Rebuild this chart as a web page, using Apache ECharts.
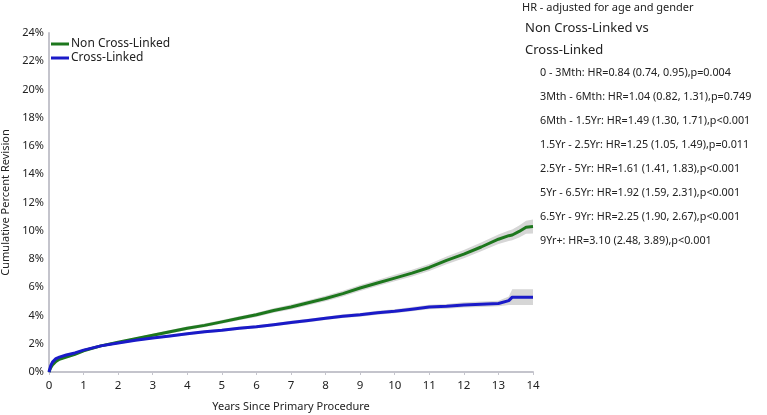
<!DOCTYPE html>
<html>
<head>
<meta charset="utf-8">
<script src="https://cdn.jsdelivr.net/npm/echarts@6/dist/echarts.min.js"></script>
<style>html,body{margin:0;padding:0;background:#fff}#c{width:767px;height:415px}</style>
</head>
<body>
<div id="c"></div>
<script>
// Years since primary procedure
var years = [0, 0.05, 0.1, 0.2, 0.3, 0.5, 0.75, 1, 1.5, 2, 2.5, 3, 3.5, 4, 4.5, 5, 5.5, 6, 6.5, 7, 7.5, 8, 8.5, 9, 9.5, 10, 10.5, 11, 11.5, 12, 12.5, 13, 13.3, 13.4, 13.6, 13.8, 14];
// Cumulative percent revision (%)
var nonCrossLinked = [0, 0.3, 0.5, 0.75, 0.9, 1.05, 1.25, 1.5, 1.85, 2.1, 2.35, 2.6, 2.85, 3.1, 3.3, 3.55, 3.8, 4.05, 4.35, 4.6, 4.9, 5.2, 5.55, 5.95, 6.3, 6.65, 7.0, 7.4, 7.9, 8.35, 8.85, 9.4, 9.65, 9.7, 9.95, 10.25, 10.3];
var crossLinked = [0, 0.45, 0.7, 0.95, 1.05, 1.2, 1.35, 1.55, 1.85, 2.05, 2.25, 2.4, 2.55, 2.7, 2.85, 2.95, 3.1, 3.2, 3.35, 3.5, 3.65, 3.8, 3.95, 4.05, 4.2, 4.3, 4.45, 4.6, 4.65, 4.75, 4.8, 4.85, 5.05, 5.3, 5.3, 5.3, 5.3];
// 95% CI half-widths (%)
var nonCrossLinkedCI = [0, 0.05, 0.06, 0.07, 0.07, 0.08, 0.08, 0.08, 0.09, 0.1, 0.1, 0.11, 0.12, 0.12, 0.13, 0.14, 0.14, 0.15, 0.16, 0.17, 0.18, 0.19, 0.2, 0.21, 0.22, 0.23, 0.24, 0.25, 0.27, 0.29, 0.31, 0.34, 0.37, 0.38, 0.42, 0.46, 0.5];
var crossLinkedCI = [0, 0.05, 0.06, 0.07, 0.07, 0.07, 0.07, 0.08, 0.08, 0.08, 0.08, 0.09, 0.09, 0.09, 0.1, 0.1, 0.1, 0.11, 0.11, 0.12, 0.12, 0.12, 0.13, 0.13, 0.14, 0.14, 0.15, 0.16, 0.17, 0.18, 0.19, 0.2, 0.3, 0.55, 0.55, 0.55, 0.55];
var yTicks = [0, 2, 4, 6, 8, 10, 12, 14, 16, 18, 20, 22, 24];
var hrHeader = 'HR - adjusted for age and gender';
var hrTitle = ['Non Cross-Linked vs', 'Cross-Linked'];
var hrLines = [
  '0 - 3Mth: HR=0.84 (0.74, 0.95),p=0.004',
  '3Mth - 6Mth: HR=1.04 (0.82, 1.31),p=0.749',
  '6Mth - 1.5Yr: HR=1.49 (1.30, 1.71),p<0.001',
  '1.5Yr - 2.5Yr: HR=1.25 (1.05, 1.49),p=0.011',
  '2.5Yr - 5Yr: HR=1.61 (1.41, 1.83),p<0.001',
  '5Yr - 6.5Yr: HR=1.92 (1.59, 2.31),p<0.001',
  '6.5Yr - 9Yr: HR=2.25 (1.90, 2.67),p<0.001',
  '9Yr+: HR=3.10 (2.48, 3.89),p<0.001'
];

function pairs(v) { return years.map(function (x, i) { return [x, v[i]]; }); }

var FONT = 'Noto Sans';
var GREEN = '#1d771d', BLUE = '#1a1ac8', BAND = '#d6d6d6';

function bandSeries(v, ci) {
  return {
    type: 'custom', silent: true, z: 1,
    data: [0],
    renderItem: function (params, api) {
      var pts = [];
      for (var i = 0; i < years.length; i++) pts.push(api.coord([years[i], v[i] + ci[i]]));
      for (var j = years.length - 1; j >= 0; j--) pts.push(api.coord([years[j], v[j] - ci[j]]));
      return { type: 'polygon', shape: { points: pts }, style: { fill: BAND, stroke: 'none' } };
    }
  };
}

var graphics = [];
graphics.push({ type: 'text', left: 522, top: 2, style: { text: hrHeader, font: '11px "' + FONT + '"', fill: '#222' } });
hrTitle.forEach(function (t, i) {
  graphics.push({ type: 'text', left: 525, top: 22 + i * 22, style: { text: t, font: '13px "' + FONT + '"', fill: '#222' } });
});
hrLines.forEach(function (t, i) {
  graphics.push({ type: 'text', left: 540, top: 67 + i * 24, style: { text: t, font: '10.8px "' + FONT + '"', fill: '#222' } });
});

var chart = echarts.init(document.getElementById('c'), null, { renderer: 'canvas' });
chart.setOption({
  animation: false,
  textStyle: { fontFamily: FONT },
  grid: { left: 49, right: 234, top: 33, bottom: 43, containLabel: false, outerBoundsMode: 'none' },
  legend: {
    data: ['Non Cross-Linked', 'Cross-Linked'],
    orient: 'vertical', left: 51, top: 38, itemGap: 2, padding: [0, 0, 0, 0],
    itemWidth: 18, itemHeight: 3, icon: 'rect',
    textStyle: { fontSize: 12, color: '#222', fontFamily: FONT, padding: [0, 0, 0, -3] }
  },
  xAxis: {
    type: 'value', min: 0, max: 14, interval: 1,
    name: 'Years Since Primary Procedure', nameLocation: 'middle', nameGap: 29,
    nameTextStyle: { fontSize: 11, color: '#222' },
    axisLine: { lineStyle: { color: '#c4c4cc', width: 2 } },
    axisTick: { show: true, length: 3, lineStyle: { color: '#c4c4cc' } },
    axisLabel: { fontSize: 11.5, color: '#222', margin: 8 },
    splitLine: { show: false }
  },
  yAxis: {
    type: 'value', min: yTicks[0], max: yTicks[yTicks.length - 1], interval: 2,
    name: 'Cumulative Percent Revision', nameLocation: 'middle', nameGap: 36,
    nameTextStyle: { fontSize: 11, color: '#222' },
    axisLine: { show: true, lineStyle: { color: '#c4c4cc', width: 2 } },
    axisTick: { show: false },
    axisLabel: { fontSize: 11, color: '#222', margin: 5, formatter: '{value}%' },
    splitLine: { show: false }
  },
  graphic: graphics,
  series: [
    bandSeries(nonCrossLinked, nonCrossLinkedCI),
    bandSeries(crossLinked, crossLinkedCI),
    { name: 'Non Cross-Linked', type: 'line', data: pairs(nonCrossLinked), symbol: 'none', color: GREEN, lineStyle: { width: 3, color: GREEN }, z: 3 },
    { name: 'Cross-Linked', type: 'line', data: pairs(crossLinked), symbol: 'none', color: BLUE, lineStyle: { width: 3, color: BLUE }, z: 4 }
  ]
});
</script>
</body>
</html>
